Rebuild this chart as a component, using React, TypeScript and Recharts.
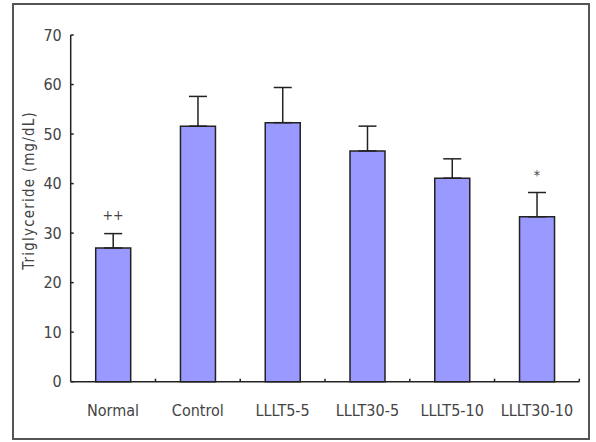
import { ComposedChart, Bar, XAxis, YAxis, ErrorBar, Scatter } from "recharts";

const groups = ["Normal", "Control", "LLLT5-5", "LLLT30-5", "LLLT5-10", "LLLT30-10"];
const means = [27.0, 51.6, 52.3, 46.6, 41.1, 33.3];
const sds = [2.9, 6.0, 7.1, 5.0, 3.9, 4.9];
const marks = ["++", "", "", "", "", "*"];
const markAt = [33.7, null, null, null, null, 41.7];
const yTicks = [0, 10, 20, 30, 40, 50, 60, 70];

const FONT = "'Liberation Sans Narrow', 'DejaVu Sans Condensed', Arial, sans-serif";
const TEXT = "#444";
const INK = "#222";

const data = groups.map((g, i) => ({
  group: g,
  mean: means[i],
  err: [0, sds[i]],
  mark: marks[i],
  markAt: markAt[i],
}));

function YTick(props: any) {
  const { x, y, payload } = props;
  return (
    <g>
      <line x1={x} y1={y} x2={x + 3} y2={y} stroke={INK} strokeWidth={1.5} />
      <text x={x - 9} y={y} dy={5.5} textAnchor="end" fontFamily={FONT} fontSize={16} fill={TEXT}>
        {payload.value}
      </text>
    </g>
  );
}

function XTick(props: any) {
  const { x, y, payload } = props;
  const off = payload.offset ?? 508.6 / 12;
  return (
    <g>
      <line x1={x + off} y1={y} x2={x + off} y2={y - 3} stroke={INK} strokeWidth={1.5} />
      <text x={x} y={y + 34} textAnchor="middle" fontFamily={FONT} fontSize={16} fill={TEXT}>
        {payload.value}
      </text>
    </g>
  );
}

function MarkShape(props: any) {
  const { cx, cy, payload } = props;
  if (!payload || !payload.mark) return null;
  return (
    <text x={cx} y={cy} dy={5} textAnchor="middle" fontFamily={FONT} fontSize={14} fill={TEXT}>
      {payload.mark}
    </text>
  );
}

export default function App() {
  return (
    <div style={{ position: "absolute", left: 0, top: 0, width: 596, height: 442, background: "#fff" }}>
      <div
        style={{
          position: "absolute",
          left: 12,
          top: 3,
          width: 574,
          height: 433,
          border: "2px solid #555",
        }}
      />
      <ComposedChart
        width={596}
        height={442}
        data={data}
        margin={{ top: 35, right: 16.7, bottom: 20.3, left: 10.7 }}
        style={{ position: "absolute", left: 0, top: 0 }}
      >
        <XAxis
          dataKey="group"
          height={40}
          tickSize={0}
          tickMargin={0}
          tick={<XTick />}
          axisLine={{ stroke: INK, strokeWidth: 1.5 }}
          tickLine={false}
          interval={0}
        />
        <YAxis
          width={60}
          domain={[0, 70]}
          ticks={yTicks}
          tickSize={0}
          tickMargin={0}
          tick={<YTick />}
          tickLine={false}
          axisLine={{ stroke: INK, strokeWidth: 1.5 }}
          label={{
            content: ({ viewBox }: any) => {
              const cx = viewBox.x + 18;
              const cy = viewBox.y + viewBox.height / 2 - 18;
              return (
                <text
                  x={cx}
                  y={cy}
                  transform={`rotate(-90 ${cx} ${cy})`}
                  textAnchor="middle"
                  dominantBaseline="central"
                  fontFamily={FONT}
                  fontSize={15}
                  letterSpacing={1.2}
                  fill={TEXT}
                >
                  Triglyceride (mg/dL)
                </text>
              );
            },
          }}
        />
        <Bar dataKey="mean" barSize={35} fill="#9999ff" stroke={INK} strokeWidth={1.5} isAnimationActive={false}>
          <ErrorBar dataKey="err" direction="y" width={9} stroke={INK} strokeWidth={1.5} />
        </Bar>
        <Scatter dataKey="markAt" shape={<MarkShape />} isAnimationActive={false} />
      </ComposedChart>
    </div>
  );
}
